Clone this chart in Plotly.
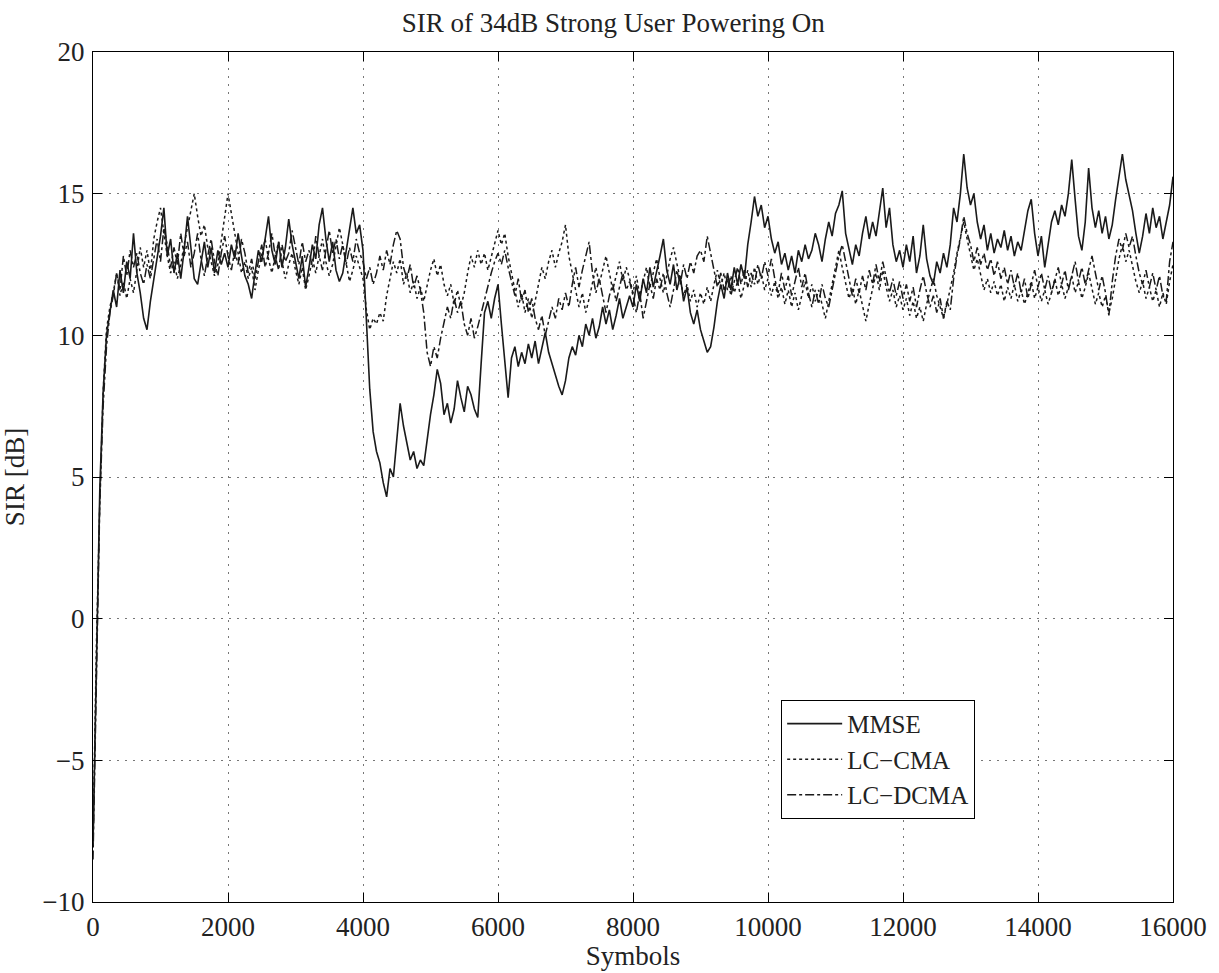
import plotly.graph_objects as go

# Symbol index (every 50 symbols)
symbols = list(range(0, 16001, 50))

mmse = [
    -8.0, -1.0, 4.5, 8.0, 10.0, 10.8, 11.6, 11.0, 12.3, 11.5, 12.6, 12.0, 13.6, 12.2, 11.5, 10.6, 10.2, 11.2, 12.0, 12.8,
    13.5, 14.5, 12.8, 13.4, 12.2, 12.9, 12.0, 13.0, 14.2, 13.1, 12.0, 11.8, 12.6, 13.3, 12.4, 13.1, 12.2, 13.0, 12.5, 12.9,
    12.4, 13.2, 12.7, 13.6, 12.8, 12.1, 11.8, 11.3, 12.2, 13.0, 12.6, 13.5, 14.2, 13.0, 12.5, 13.3, 12.4, 13.1, 14.1, 13.2,
    12.6, 12.0, 12.8, 11.7, 12.4, 13.2, 12.7, 13.9, 14.5, 13.4, 12.6, 13.3, 12.3, 11.9, 12.2, 13.0, 13.8, 14.5, 13.6, 13.9,
    13.0, 10.5, 8.1, 6.6, 5.9, 5.5, 4.8, 4.3, 5.3, 5.0, 6.2, 7.6, 6.8, 6.2, 5.6, 5.9, 5.3, 5.6, 5.4, 6.3,
    7.2, 7.9, 8.8, 8.3, 7.2, 7.6, 6.9, 7.4, 8.4, 7.8, 7.3, 8.2, 7.9, 7.4, 7.1, 9.0, 10.8, 11.2, 10.6, 11.3,
    11.8, 10.4, 9.0, 7.8, 9.2, 9.6, 8.9, 9.4, 9.0, 9.7, 9.2, 9.8, 9.0, 9.6, 10.1, 9.4, 9.0, 8.6, 8.2, 7.9,
    8.4, 9.2, 9.6, 9.3, 10.0, 9.6, 10.4, 10.0, 10.6, 9.9, 10.3, 11.0, 10.4, 10.9, 10.2, 10.7, 11.3, 10.6, 11.0, 11.4,
    11.0, 11.8, 11.2, 12.0, 11.5, 12.4, 11.7, 12.2, 12.8, 13.4, 12.3, 11.8, 12.5, 11.6, 12.1, 11.2, 11.7, 10.8, 10.4, 10.9,
    10.2, 9.8, 9.4, 9.6, 10.3, 11.2, 11.8, 11.3, 12.2, 11.6, 12.4, 11.8, 12.5, 12.0, 13.2, 14.0, 14.9, 14.2, 14.6, 13.8,
    14.2, 13.4, 12.9, 13.3, 12.5, 12.9, 12.3, 12.8, 12.2, 13.0, 12.6, 13.2, 12.7, 13.0, 13.6, 13.2, 12.6, 13.4, 14.0, 13.5,
    14.3, 14.6, 15.1, 13.6, 13.0, 12.5, 13.2, 12.8, 13.6, 14.2, 13.4, 14.0, 13.5, 14.4, 15.2, 13.8, 14.5, 13.2, 12.6, 13.0,
    12.4, 13.2, 12.6, 13.5, 12.2, 12.8, 13.9, 12.7, 12.1, 11.8, 12.6, 12.2, 12.9, 12.4, 13.2, 14.5, 14.0, 15.0, 16.4, 15.2,
    14.6, 15.0, 14.0, 13.4, 13.9, 13.0, 13.6, 12.9, 13.4, 13.1, 13.7, 13.0, 13.5, 12.8, 13.3, 13.0, 13.7, 14.4, 14.8, 13.6,
    12.8, 13.5, 12.4, 13.2, 14.0, 14.4, 13.9, 14.6, 14.2, 15.0, 16.2, 14.8, 13.5, 13.0, 14.0, 15.9, 14.5, 13.8, 14.4, 13.6,
    14.2, 13.4, 13.9, 14.8, 15.6, 16.4, 15.5, 15.0, 14.4, 13.6, 12.9, 13.5, 14.3, 13.6, 14.5, 13.8, 14.2, 13.4, 14.0, 14.6,
    15.6,
]

lc_cma = [
    -8.0, -1.0, 4.0, 8.0, 10.2, 11.0, 11.5, 12.2, 11.4, 11.9, 11.3, 12.0, 11.5, 12.3, 13.1, 12.4, 13.0, 12.2, 13.4, 14.0,
    14.5, 13.6, 12.8, 12.2, 12.6, 12.0, 12.5, 13.2, 13.8, 14.4, 15.0, 14.2, 13.5, 13.9, 13.1, 12.6, 12.1, 12.5, 13.3, 14.2,
    15.0, 14.3, 13.6, 12.8, 12.2, 12.6, 12.0, 12.4, 11.6, 12.3, 12.8, 13.4, 12.7, 12.2, 12.8, 13.3, 12.6, 12.0, 12.5, 12.9,
    12.3, 11.8, 12.4, 11.6, 12.1, 12.7, 12.2, 12.8, 13.4, 12.6, 12.1, 12.5, 13.2, 13.8, 13.2, 12.5, 11.9, 12.3, 12.8, 12.4,
    12.0, 10.9, 10.2, 10.6, 10.4, 10.8, 10.5, 11.4, 12.0, 12.6, 12.2, 12.7, 11.8, 12.2, 11.5, 11.9, 11.3, 11.7, 11.2, 11.8,
    12.3, 12.7, 12.1, 12.5, 11.8, 11.4, 11.8, 11.1, 11.6, 11.0, 11.5, 12.2, 12.8, 12.4, 13.0, 12.5, 12.9, 12.3, 12.8, 13.3,
    13.7, 13.2, 13.6, 12.8, 12.2, 11.6, 11.0, 11.5, 10.8, 11.3, 10.6, 11.2, 11.8, 12.4, 12.0, 12.6, 13.0, 12.4, 12.9, 13.3,
    13.9, 12.8, 12.2, 11.6, 11.0, 11.5, 10.8, 11.3, 11.9, 12.4, 11.8, 12.3, 12.8, 12.2, 11.6, 12.1, 12.6, 11.9, 12.4, 12.0,
    11.5, 12.1, 11.4, 11.9, 12.4, 11.7, 12.2, 12.7, 12.0, 11.5, 12.1, 12.7, 13.1, 12.5, 12.0, 11.4, 11.8, 11.2, 11.6, 11.0,
    11.5, 11.1, 11.7, 11.2, 11.8, 12.3, 11.7, 12.2, 11.6, 12.1, 11.5, 11.9, 11.3, 11.8, 12.3, 11.7, 12.4, 11.8, 12.2, 11.6,
    12.0, 11.4, 11.9, 11.3, 11.7, 11.1, 11.6, 11.0, 11.5, 10.9, 11.4, 11.9, 11.3, 11.8, 11.2, 11.6, 11.1, 10.6, 11.2, 11.8,
    12.5, 13.0, 12.4, 11.8, 11.3, 11.7, 11.1, 11.6, 11.0, 10.5, 11.1, 11.6, 12.2, 11.6, 12.3, 11.7, 11.2, 11.6, 11.0, 11.4,
    10.9, 11.3, 10.7, 11.2, 10.6, 11.0, 10.5, 11.1, 11.6, 12.0, 11.4, 11.0, 10.6, 11.1, 11.6, 12.2, 12.9, 13.5, 14.0, 13.4,
    12.8, 12.3, 12.7, 12.1, 11.6, 12.0, 11.5, 11.9, 11.4, 11.8, 11.2, 11.7, 11.3, 11.8, 11.2, 11.6, 11.1, 11.5, 11.9, 11.3,
    11.7, 11.2, 11.6, 11.1, 11.5, 12.0, 11.4, 11.8, 11.3, 11.7, 12.1, 11.5, 11.9, 11.3, 11.7, 12.2, 11.6, 11.1, 11.5, 11.0,
    11.4, 10.8, 11.3, 12.0, 12.7, 13.2, 12.6, 13.0, 12.4, 11.9, 11.5, 11.9, 11.3, 11.7, 11.2, 11.6, 11.0, 11.5, 11.1, 11.9,
    12.5,
]

lc_dcma = [
    -8.5, -1.5, 4.0, 7.5, 9.6, 10.8, 11.4, 12.2, 11.6, 12.8, 12.1, 13.0, 12.4, 12.9, 12.2, 11.8, 12.5, 12.0, 12.7, 13.4,
    12.6, 13.8, 13.2, 12.4, 13.1, 12.5, 13.6, 12.8, 13.3, 12.4, 12.9, 13.6, 12.7, 12.1, 12.8, 13.4, 12.6, 12.1, 12.9, 13.5,
    12.8, 12.3, 13.0, 12.5, 13.4, 12.9, 12.2, 12.7, 12.0, 12.6, 13.2, 12.4, 12.9, 13.6, 12.8, 12.3, 13.2, 12.6, 12.9, 13.7,
    13.1, 12.5, 13.3, 12.6, 13.0, 12.4, 13.5, 12.8, 12.3, 13.0, 13.7, 12.9, 13.4, 12.7, 13.2, 12.5, 13.1, 12.6, 13.4, 12.9,
    12.6, 12.0, 12.4, 11.8, 12.2, 12.8, 12.3, 13.0, 12.5, 13.2, 13.7, 13.4, 12.4, 12.0, 12.5, 11.7, 12.1, 11.6, 10.8, 9.4,
    8.9, 9.6, 9.2, 9.9, 10.4, 11.0, 10.6, 11.3, 10.8, 11.2, 10.4, 10.0, 10.6, 9.9, 10.3, 10.8, 11.3, 11.8, 12.2, 12.6,
    12.9, 12.5, 13.0, 12.4, 11.9, 11.4, 12.0, 11.2, 11.6, 10.8, 11.3, 10.6, 10.2, 10.7, 10.0, 10.5, 11.0, 10.6, 11.3, 10.9,
    11.5, 11.0, 11.8, 12.4, 11.7, 12.3, 12.8, 13.3, 12.2, 11.5, 12.0, 11.4, 10.8, 11.4, 11.8, 11.2, 11.7, 12.2, 11.6, 11.9,
    11.4, 10.8, 11.5, 10.6, 11.2, 11.8, 11.3, 12.0, 11.6, 12.2, 11.5, 11.0, 11.6, 12.3, 11.8, 12.5, 12.0, 12.6, 12.2, 12.8,
    13.0, 12.6, 13.5, 12.9, 12.3, 11.7, 12.2, 11.6, 12.0, 11.4, 11.9, 12.4, 11.8, 12.3, 11.7, 12.2, 11.8, 12.5, 12.0, 12.6,
    12.1, 12.7, 12.0, 11.5, 12.2, 11.6, 12.1, 11.4, 11.9, 12.4, 11.7, 12.2, 11.5, 11.0, 11.6, 11.1, 11.8, 11.3, 11.0, 11.6,
    12.2, 12.8, 13.2, 12.6, 11.9, 11.4, 12.0, 11.5, 12.1, 11.6, 12.3, 11.8, 12.5, 11.9, 12.6, 12.1, 11.5, 12.0, 11.4, 11.9,
    11.3, 11.8, 11.2, 11.7, 11.0, 11.6, 12.1, 11.5, 11.0, 11.4, 10.8, 11.3, 10.6, 11.2, 10.9, 12.0, 12.8, 13.4, 14.2, 13.6,
    13.2, 12.6, 13.1, 12.5, 12.9, 12.3, 12.7, 12.1, 12.6, 12.0, 12.4, 11.8, 12.3, 11.7, 12.2, 11.5, 12.0, 11.3, 11.8, 12.3,
    11.7, 12.2, 11.6, 12.1, 11.5, 12.0, 12.4, 11.8, 12.3, 11.6, 12.1, 12.6, 11.9, 12.4, 11.8, 12.3, 12.8, 12.2, 11.6, 12.1,
    11.5, 10.7, 11.9, 12.8, 13.4, 13.0, 13.6, 13.1, 13.5, 12.8, 12.2, 11.8, 12.3, 11.7, 12.2, 11.6, 12.1, 11.4, 11.2, 12.6,
    13.3,
]

x_ticks = [0, 2000, 4000, 6000, 8000, 10000, 12000, 14000, 16000]
y_ticks = [-10, -5, 0, 5, 10, 15, 20]

FONT = "Liberation Serif, Times New Roman, serif"
INK = "#1a1a1a"

fig = go.Figure()
fig.add_trace(go.Scatter(x=symbols, y=mmse, mode="lines", name="MMSE",
                         line=dict(color=INK, width=1.6, dash="solid")))
fig.add_trace(go.Scatter(x=symbols, y=lc_cma, mode="lines", name="LC\u2212CMA",
                         line=dict(color=INK, width=1.5, dash="dot")))
fig.add_trace(go.Scatter(x=symbols, y=lc_dcma, mode="lines", name="LC\u2212DCMA",
                         line=dict(color=INK, width=1.5, dash="dashdot")))

axis_common = dict(
    showline=True, linecolor="black", linewidth=1.2, mirror="ticks",
    ticks="inside", ticklen=9, tickcolor="black", tickwidth=1,
    showgrid=True, gridcolor="#777777", gridwidth=1, griddash="2px,6px",
    zeroline=False, tickfont=dict(family=FONT, size=27, color="#222"),
)

fig.update_layout(
    width=1219, height=973,
    margin=dict(l=93, r=46, t=52, b=71),
    paper_bgcolor="white", plot_bgcolor="white",
    font=dict(family=FONT, color="#222"),
    title=dict(text="SIR of 34dB Strong User Powering On", x=0.503, xref="container",
               xanchor="center", y=0.977, yref="container", yanchor="middle",
               font=dict(family=FONT, size=27, color="#222")),
    xaxis=dict(range=[0, 16000], tickvals=x_ticks, ticktext=[str(v) for v in x_ticks],
               title=dict(text="Symbols", font=dict(family=FONT, size=27), standoff=0),
               **axis_common),
    yaxis=dict(range=[-10, 20], tickvals=y_ticks,
               title=dict(text="SIR [dB]", font=dict(family=FONT, size=27), standoff=12),
               ticklabelstandoff=2, **axis_common),
    legend=dict(x=0.637, y=0.238, xanchor="left", yanchor="top",
                bgcolor="white", bordercolor="black", borderwidth=1.2,
                font=dict(family=FONT, size=25, color="#222"),
                itemwidth=55, tracegroupgap=0),
    showlegend=True,
)

fig.write_html("out.html")
